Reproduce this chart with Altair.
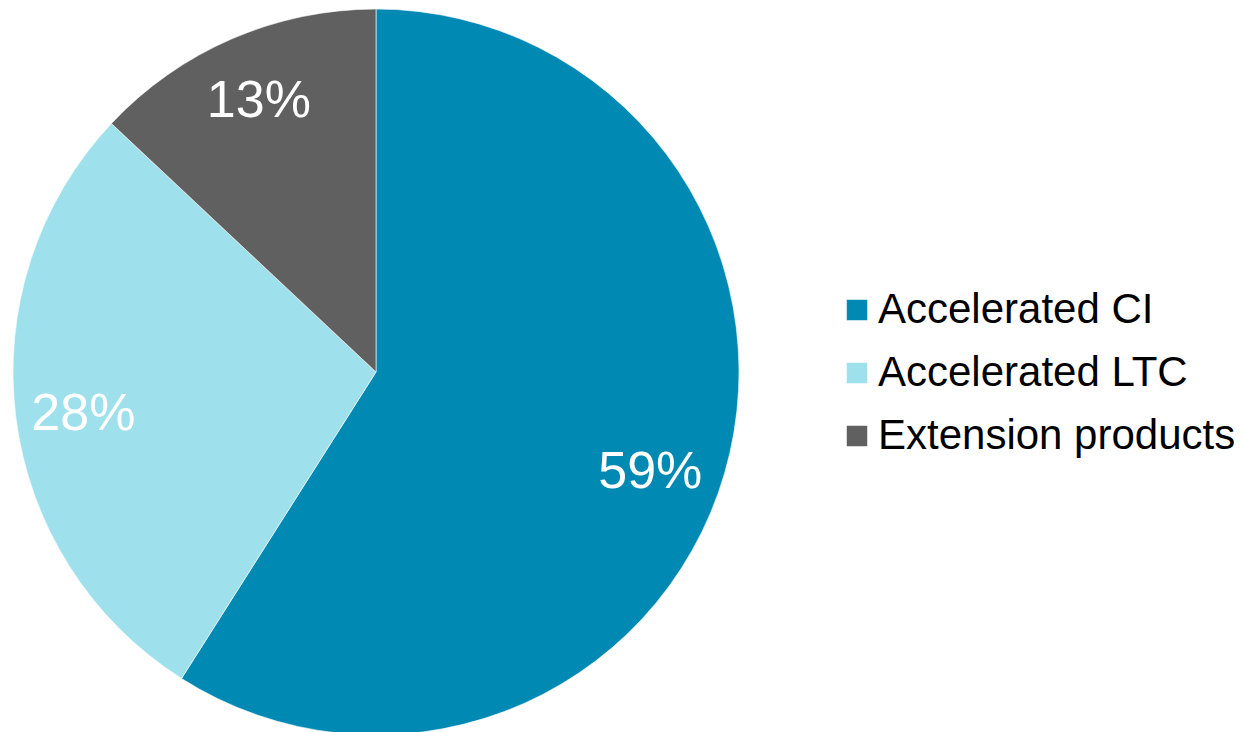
import altair as alt
import pandas as pd

categories = ["Accelerated CI", "Accelerated LTC", "Extension products"]
shares = [59, 28, 13]
labels = ["59%", "28%", "13%"]
colors = ["#0089B3", "#9EE0EC", "#606060"]

df = pd.DataFrame({
    "category": categories,
    "share": shares,
    "label": labels,
    "order": list(range(len(categories))),
})

base = alt.Chart(df).encode(
    theta=alt.Theta("share:Q", stack=True),
    order=alt.Order("order:Q"),
    x=alt.value(376),
    y=alt.value(372),
)

arcs = base.mark_arc(radius=363, stroke="white", strokeWidth=0.6).encode(
    color=alt.Color(
        "category:N",
        scale=alt.Scale(domain=categories, range=colors),
        sort=categories,
        legend=alt.Legend(
            title=None,
            orient="none",
            legendX=836,
            legendY=289,
            symbolType="square",
            symbolSize=420,
            symbolStrokeWidth=0,
            labelFont="Liberation Sans",
            labelFontSize=42,
            labelColor="#000000",
            labelOffset=0,
            rowPadding=21,
            labelLimit=600,
        ),
    )
)

text_style = dict(radius=295, font="Liberation Sans", fontSize=52, color="white",
                  align="center", baseline="middle")

t_ci = base.mark_text(dx=-9, dy=18, **text_style).encode(
    text="label:N", opacity=alt.condition("datum.order == 0", alt.value(1), alt.value(0)))
t_ltc = base.mark_text(dx=0, dy=5, **text_style).encode(
    text="label:N", opacity=alt.condition("datum.order == 1", alt.value(1), alt.value(0)))
t_ext = base.mark_text(**text_style).encode(
    text="label:N", opacity=alt.condition("datum.order == 2", alt.value(1), alt.value(0)))

chart = (arcs + t_ci + t_ltc + t_ext).properties(
    width=1245, height=732, padding=0, autosize=alt.AutoSizeParams(type="none")
).configure_view(stroke=None).configure_legend(symbolOpacity=1)

chart.save("out.html", embed_options={"renderer": "svg", "actions": False})
